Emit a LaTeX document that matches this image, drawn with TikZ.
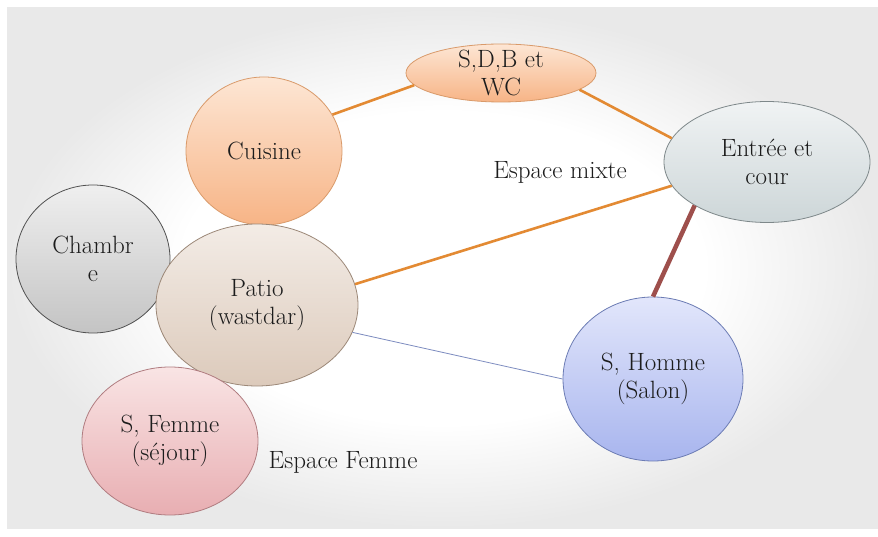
\documentclass[tikz,border=0pt]{standalone}
\usetikzlibrary{shapes.geometric}

\definecolor{slidegrey}{HTML}{E9E9E9}
\definecolor{peachtop}{HTML}{FDE6D4}
\definecolor{peachbot}{HTML}{F7B486}
\definecolor{peachline}{HTML}{D99A6A}
\definecolor{greytop}{HTML}{EFEFEF}
\definecolor{greybot}{HTML}{C4C4C4}
\definecolor{greyline}{HTML}{505050}
\definecolor{sandtop}{HTML}{F3ECE6}
\definecolor{sandbot}{HTML}{DCCABB}
\definecolor{sandline}{HTML}{9C8878}
\definecolor{rosetop}{HTML}{F9E4E4}
\definecolor{rosebot}{HTML}{E8AEB2}
\definecolor{roseline}{HTML}{B07C80}
\definecolor{misttop}{HTML}{F0F3F4}
\definecolor{mistbot}{HTML}{CDD6D8}
\definecolor{mistline}{HTML}{7E888A}
\definecolor{bluetop}{HTML}{E2E6FB}
\definecolor{bluebot}{HTML}{A8B5EE}
\definecolor{blueline}{HTML}{6C7CB4}
\definecolor{linkorange}{HTML}{E38A33}
\definecolor{linkred}{HTML}{9E4F4C}
\definecolor{linkblue}{HTML}{7D8CC0}
\definecolor{inktext}{HTML}{1C1C1C}

\pgfdeclareradialshading{slidebg}{\pgfpoint{0bp}{0bp}}{color(0bp)=(white);
  color(15bp)=(white); color(25bp)=(slidegrey); color(50bp)=(slidegrey)}

\begin{document}
\begin{tikzpicture}[x=1pt, y=-1pt,
    room/.style={ellipse, draw, line width=0.8pt, align=center, inner sep=0pt,
      text=inktext, font=\fontsize{25}{28}\selectfont},
    note/.style={text=inktext, font=\fontsize{25}{28}\selectfont},
    link/.style={linkorange, line width=2.6pt},
    heavylink/.style={linkred, line width=4.5pt},
    thinlink/.style={linkblue, line width=0.8pt}]
  \useasboundingbox (0,0) rectangle (878,537);
  \fill[white] (0,0) rectangle (878,537);
  \shade[shading=slidebg] (7,8) rectangle (878,528);

  % Define node positions
  \node[room, top color=greytop, bottom color=greybot, draw=greyline,
    minimum width=154pt, minimum height=148pt] (chambre) at (93,259) {Chambr\\e};
  \node[room, top color=peachtop, bottom color=peachbot, draw=peachline,
    minimum width=156pt, minimum height=148pt] (cuisine) at (264,151) {Cuisine};
  \node[room, top color=sandtop, bottom color=sandbot, draw=sandline,
    minimum width=202pt, minimum height=162pt] (patio) at (257,305) {Patio\\(wastdar)};
  \node[room, top color=rosetop, bottom color=rosebot, draw=roseline,
    minimum width=176pt, minimum height=148pt] (femme) at (170,441) {S, Femme\\(séjour)};
  \node[room, top color=peachtop, bottom color=peachbot, draw=peachline, inner sep=-12pt,
    minimum width=190pt, minimum height=58pt] (sdb) at (501,73) {S,D,B et\\WC};
  \node[room, top color=misttop, bottom color=mistbot, draw=mistline,
    minimum width=206pt, minimum height=121pt] (entree) at (767,162) {Entrée et\\cour};
  \node[room, top color=bluetop, bottom color=bluebot, draw=blueline,
    minimum width=180pt, minimum height=164pt] (homme) at (653,379) {S, Homme\\(Salon)};

  \node[note] (mixte) at (560,172) {Espace mixte};
  \node[note] (zonefemme) at (343,462) {Espace Femme};

  % Draw edges
  \draw[link] (cuisine.28) -- (sdb.188);
  \draw[link] (sdb.-12) -- (entree.166);
  \draw[link] (patio.12) -- (entree.194);
  \draw[heavylink] (entree.211) -- (homme.north);
  \draw[thinlink] (patio.-16) -- (homme.180);
\end{tikzpicture}
\end{document}
